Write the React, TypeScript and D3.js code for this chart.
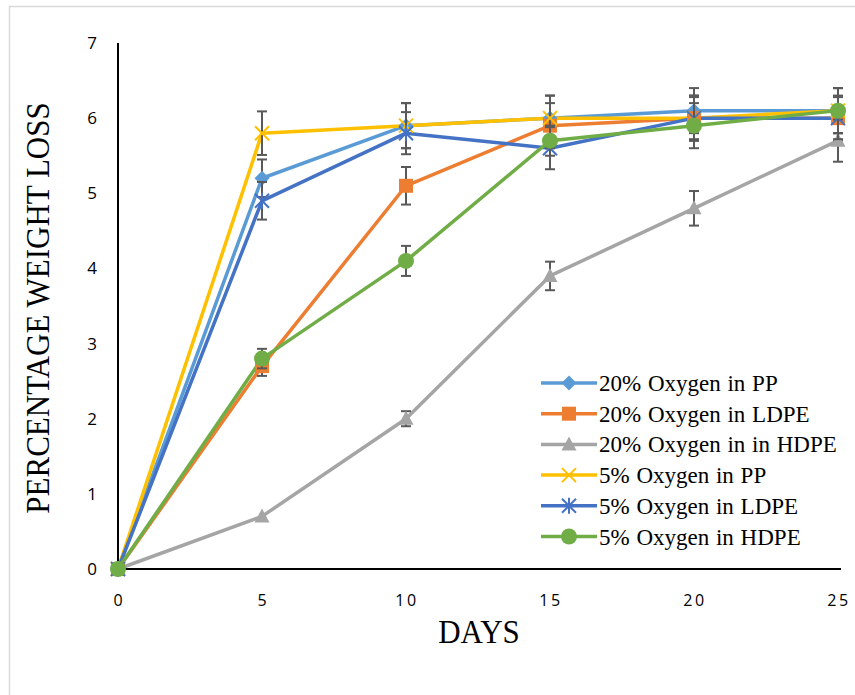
import React from "react";
import * as d3 from "d3";

const days = [0, 5, 10, 15, 20, 25];
const yTicks = [0, 1, 2, 3, 4, 5, 6, 7];

const seriesNames = [
  "20% Oxygen in PP",
  "20% Oxygen in LDPE",
  "20% Oxygen in in HDPE",
  "5% Oxygen in PP",
  "5% Oxygen in LDPE",
  "5% Oxygen in HDPE",
];
const seriesColors = ["#5B9BD5", "#ED7D31", "#A5A5A5", "#FFC000", "#4472C4", "#70AD47"];
const seriesMarkers = ["diamond", "square", "triangle", "x", "star", "circle"];

const pp20 = [0, 5.2, 5.9, 6.0, 6.1, 6.1];
const ldpe20 = [0, 2.7, 5.1, 5.9, 6.0, 6.0];
const hdpe20 = [0, 0.7, 2.0, 3.9, 4.8, 5.7];
const pp5 = [0, 5.8, 5.9, 6.0, 6.0, 6.1];
const ldpe5 = [0, 4.9, 5.8, 5.6, 6.0, 6.0];
const hdpe5 = [0, 2.8, 4.1, 5.7, 5.9, 6.1];

const pp20Err = [0, 0.25, 0.3, 0.3, 0.3, 0.3];
const ldpe20Err = [0, 0.13, 0.25, 0.3, 0.3, 0.3];
const hdpe20Err = [0, 0, 0.1, 0.19, 0.23, 0.28];
const pp5Err = [0, 0.29, 0.3, 0.3, 0.3, 0.3];
const ldpe5Err = [0, 0.25, 0.28, 0.28, 0.28, 0.28];
const hdpe5Err = [0, 0.13, 0.2, 0.2, 0.3, 0.3];

const seriesValues = [pp20, ldpe20, hdpe20, pp5, ldpe5, hdpe5];
const seriesErrors = [pp20Err, ldpe20Err, hdpe20Err, pp5Err, ldpe5Err, hdpe5Err];

const W = 855;
const H = 695;
const plot = { left: 118, right: 838, top: 43, bottom: 569 };

const x = d3.scaleLinear().domain([0, 25]).range([plot.left, plot.right]);
const y = d3.scaleLinear().domain([0, 7]).range([plot.bottom, plot.top]);

const serif = "'Liberation Serif', 'Times New Roman', serif";
const sans = "'Open Sans', 'DejaVu Sans', sans-serif";

function Marker({ kind, cx, cy, color }: { kind: string; cx: number; cy: number; color: string }) {
  switch (kind) {
    case "diamond":
      return <path d={`M${cx},${cy - 7.5}L${cx + 7.5},${cy}L${cx},${cy + 7.5}L${cx - 7.5},${cy}Z`} fill={color} />;
    case "square":
      return <rect x={cx - 7} y={cy - 7} width={14} height={14} fill={color} />;
    case "triangle":
      return <path d={`M${cx},${cy - 8}L${cx + 7.5},${cy + 6}L${cx - 7.5},${cy + 6}Z`} fill={color} />;
    case "x":
      return (
        <path
          d={`M${cx - 7},${cy - 7}L${cx + 7},${cy + 7}M${cx + 7},${cy - 7}L${cx - 7},${cy + 7}`}
          stroke={color}
          strokeWidth={2}
          fill="none"
        />
      );
    case "star":
      return (
        <path
          d={`M${cx - 7},${cy - 7}L${cx + 7},${cy + 7}M${cx + 7},${cy - 7}L${cx - 7},${cy + 7}M${cx},${cy - 8}L${cx},${cy + 8}`}
          stroke={color}
          strokeWidth={2}
          fill="none"
        />
      );
    default:
      return <circle cx={cx} cy={cy} r={8} fill={color} />;
  }
}

export default function App() {
  const line = d3
    .line<number>()
    .x((_, i) => x(days[i]))
    .y((v) => y(v));

  const legendX = 541;
  const legendY0 = 383;
  const legendStep = 30.7;

  return (
    <svg
      width={W}
      height={H}
      style={{ position: "absolute", left: 0, top: 0, background: "#fff" }}
    >
      <rect x={0} y={0} width={W} height={H} fill="#fff" />
      {/* chart area frame */}
      <path d={`M9.5,${H}L9.5,6.5L${W},6.5`} stroke="#d9d9d9" strokeWidth={1.5} fill="none" />

      {/* axes */}
      <line x1={plot.left} x2={plot.left} y1={plot.top} y2={plot.bottom} stroke="#000" strokeWidth={2} />
      <line x1={plot.left} x2={plot.right + 3} y1={plot.bottom} y2={plot.bottom} stroke="#000" strokeWidth={2} />

      {yTicks.map((t) => (
        <text
          key={`y${t}`}
          x={97}
          y={y(t)}
          dy="0.35em"
          textAnchor="end"
          fontFamily={sans}
          fontSize={17}
          fill="#000"
        >
          {t}
        </text>
      ))}
      {days.map((d) => (
        <text
          key={`x${d}`}
          x={x(d) + (d >= 10 ? 1 : 0)}
          y={606}
          textAnchor="middle"
          fontFamily={sans}
          fontSize={16}
          letterSpacing={d >= 10 ? 2.5 : 0}
          fill="#000"
        >
          {d}
        </text>
      ))}

      <text
        transform={`translate(49,308) rotate(-90) scale(1,1.12)`}
        textAnchor="middle"
        fontFamily={serif}
        fontSize={31}
        fill="#000"
      >
        PERCENTAGE WEIGHT LOSS
      </text>
      <text
        transform={`translate(479,643) scale(1,1.1)`}
        textAnchor="middle"
        fontFamily={serif}
        fontSize={31}
        fill="#000"
      >
        DAYS
      </text>

      {/* series lines */}
      {seriesValues.map((vals, s) => (
        <path
          key={`l${s}`}
          d={line(vals) || ""}
          stroke={seriesColors[s]}
          strokeWidth={3.5}
          fill="none"
          strokeLinejoin="round"
        />
      ))}

      {/* error bars and markers */}
      {seriesValues.map((vals, s) => (
        <g key={`m${s}`}>
          {vals.map((v, i) => {
            const e = seriesErrors[s][i];
            const cx = x(days[i]);
            if (!e) return null;
            return (
              <g key={`e${i}`} stroke="#595959" strokeWidth={2}>
                <line x1={cx} x2={cx} y1={y(v + e)} y2={y(v - e)} />
                <line x1={cx - 5} x2={cx + 5} y1={y(v + e)} y2={y(v + e)} />
                <line x1={cx - 5} x2={cx + 5} y1={y(v - e)} y2={y(v - e)} />
              </g>
            );
          })}
          {vals.map((v, i) => (
            <Marker key={`p${i}`} kind={seriesMarkers[s]} cx={x(days[i])} cy={y(v)} color={seriesColors[s]} />
          ))}
        </g>
      ))}

      {/* legend */}
      {seriesNames.map((name, s) => {
        const ly = legendY0 + s * legendStep;
        return (
          <g key={`lg${s}`}>
            <line x1={legendX} x2={legendX + 56} y1={ly} y2={ly} stroke={seriesColors[s]} strokeWidth={3.5} />
            <Marker kind={seriesMarkers[s]} cx={legendX + 28} cy={ly} color={seriesColors[s]} />
            <text
              x={legendX + 58}
              y={ly}
              dy="0.35em"
              fontFamily={serif}
              fontSize={23}
              wordSpacing={1}
              fill="#000"
            >
              {name}
            </text>
          </g>
        );
      })}
    </svg>
  );
}
